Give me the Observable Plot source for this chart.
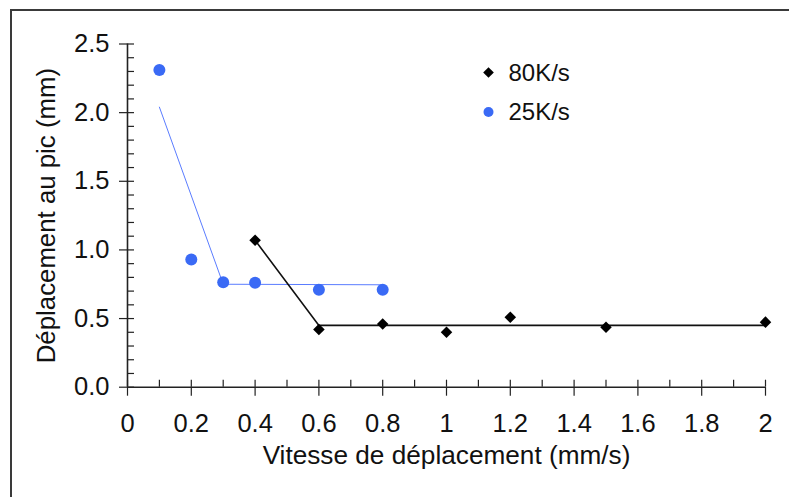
<!DOCTYPE html>
<html>
<head>
<meta charset="utf-8">
<script src="https://cdn.jsdelivr.net/npm/d3@7"></script>
<script src="https://cdn.jsdelivr.net/npm/@observablehq/plot@0.6"></script>
<style>
  body { margin: 0; background: #fff; }
  #wrap { position: relative; width: 789px; height: 497px; overflow: hidden; }
  #frame { position: absolute; left: 10px; top: 9px; right: -5px; bottom: -5px;
           border-top: 2px solid #3a3a3a; border-left: 2px solid #3a3a3a; pointer-events: none; }
</style>
</head>
<body>
<div id="wrap"><div id="chart"></div><div id="frame"></div></div>
<script>
// ---- data ----
const seriesNames = ["80K/s", "25K/s"];
const seriesColors = ["#000000", "#3a6af5"];
const speed80 = [0.4, 0.6, 0.8, 1.0, 1.2, 1.5, 2.0];
const disp80  = [1.07, 0.42, 0.46, 0.40, 0.51, 0.437, 0.474];
const speed25 = [0.1, 0.2, 0.3, 0.4, 0.6, 0.8];
const disp25  = [2.31, 0.93, 0.765, 0.76, 0.71, 0.71];
const fit80X = [0.4, 0.6, 2.0];
const fit80Y = [1.07, 0.45, 0.45];
const fit25X = [0.1, 0.3, 0.8];
const fit25Y = [2.04, 0.75, 0.746];
const xMajor = [0, 0.2, 0.4, 0.6, 0.8, 1.0, 1.2, 1.4, 1.6, 1.8, 2.0];
const xTickLabels = ["0", "0.2", "0.4", "0.6", "0.8", "1", "1.2", "1.4", "1.6", "1.8", "2"];
const xMinor = [0, 0.1, 0.2, 0.3, 0.4, 0.5, 0.6, 0.7, 0.8, 0.9, 1.0, 1.1, 1.2, 1.3, 1.4, 1.5, 1.6, 1.7, 1.8, 1.9, 2.0];
const yMajor = [0, 0.5, 1.0, 1.5, 2.0, 2.5];
const yTickLabels = ["0.0", "0.5", "1.0", "1.5", "2.0", "2.5"];
const yMinor = [0, 0.1, 0.2, 0.3, 0.4, 0.5, 0.6, 0.7, 0.8, 0.9, 1.0, 1.1, 1.2, 1.3, 1.4, 1.5, 1.6, 1.7, 1.8, 1.9, 2.0, 2.1, 2.2, 2.3, 2.4, 2.5];
const xTitle = "Vitesse de déplacement (mm/s)";
const yTitle = "Déplacement au pic (mm)";

// ---- tables ----
const pts80 = speed80.map((x, i) => ({x, y: disp80[i]}));
const pts25 = speed25.map((x, i) => ({x, y: disp25[i]}));
const fit80 = fit80X.map((x, i) => ({x, y: fit80Y[i]}));
const fit25 = fit25X.map((x, i) => ({x, y: fit25Y[i]}));
const xLab = new Map(xMajor.map((v, i) => [v, xTickLabels[i]]));
const yLab = new Map(yMajor.map((v, i) => [v, yTickLabels[i]]));

const W = 789, H = 497, mL = 127, mR = 24, mT = 43.5, mB = 110.3;
const fw = W - mL - mR, fh = H - mT - mB;
const font = "'Liberation Sans', Arial, Helvetica, sans-serif";
const axisColor = "#222";

const chart = Plot.plot({
  width: W, height: H,
  marginLeft: mL, marginRight: mR, marginTop: mT, marginBottom: mB,
  x: {domain: [0, 2]},
  y: {domain: [0, 2.5]},
  style: {fontFamily: font, color: "#111", background: "transparent", overflow: "visible"},
  marks: [
    Plot.tickY(yMinor, {y: d => d, insetRight: fw - 7, stroke: axisColor, strokeWidth: 1.2}),
    Plot.tickX(xMinor, {x: d => d, insetTop: fh - 7, stroke: axisColor, strokeWidth: 1.2}),
    Plot.axisY({ticks: yMajor, tickSize: 8, tickPadding: 10, tickFormat: d => yLab.get(d),
                fontSize: 25.5, label: null, stroke: axisColor, strokeWidth: 1.2}),
    Plot.axisX({ticks: xMajor, tickSize: 9, tickPadding: 18, tickFormat: d => xLab.get(d),
                fontSize: 25.5, label: null, stroke: axisColor, strokeWidth: 1.2}),
    Plot.ruleY([0], {x1: 0, x2: 2, stroke: axisColor, strokeWidth: 1.6}),
    Plot.ruleX([0], {y1: 0, y2: 2.5, stroke: axisColor, strokeWidth: 1.6}),
    Plot.line(fit25, {x: "x", y: "y", stroke: "#5a7cff", strokeWidth: 1}),
    Plot.line(fit80, {x: "x", y: "y", stroke: "#111", strokeWidth: 1.6}),
    Plot.dot(pts25, {x: "x", y: "y", r: 6, fill: seriesColors[1], stroke: "none"}),
    Plot.dot(pts80, {x: "x", y: "y", r: 5.2, symbol: "diamond2", fill: seriesColors[0], stroke: "none"}),
    // legend
    Plot.dot([seriesNames[0]], {frameAnchor: "top-left", dx: 361, dy: 28.5, r: 4.8, symbol: "diamond2", fill: seriesColors[0]}),
    Plot.dot([seriesNames[1]], {frameAnchor: "top-left", dx: 361, dy: 68, r: 5, fill: seriesColors[1]}),
    Plot.text([seriesNames[0]], {text: d => d, frameAnchor: "top-left", dx: 381, dy: 29, textAnchor: "start", lineAnchor: "middle", fontSize: 24, fill: "#111"}),
    Plot.text([seriesNames[1]], {text: d => d, frameAnchor: "top-left", dx: 381, dy: 68.5, textAnchor: "start", lineAnchor: "middle", fontSize: 24, fill: "#111"}),
    // axis titles
    Plot.text([xTitle], {text: d => d, frameAnchor: "bottom", dy: 68, textAnchor: "middle", lineAnchor: "middle", fontSize: 26.2, fill: "#111"}),
    Plot.text([yTitle], {text: d => d, frameAnchor: "left", dx: -81, rotate: -90, textAnchor: "middle", lineAnchor: "middle", fontSize: 25.8, fill: "#111"})
  ]
});
document.getElementById("chart").appendChild(chart);
</script>
</body>
</html>
